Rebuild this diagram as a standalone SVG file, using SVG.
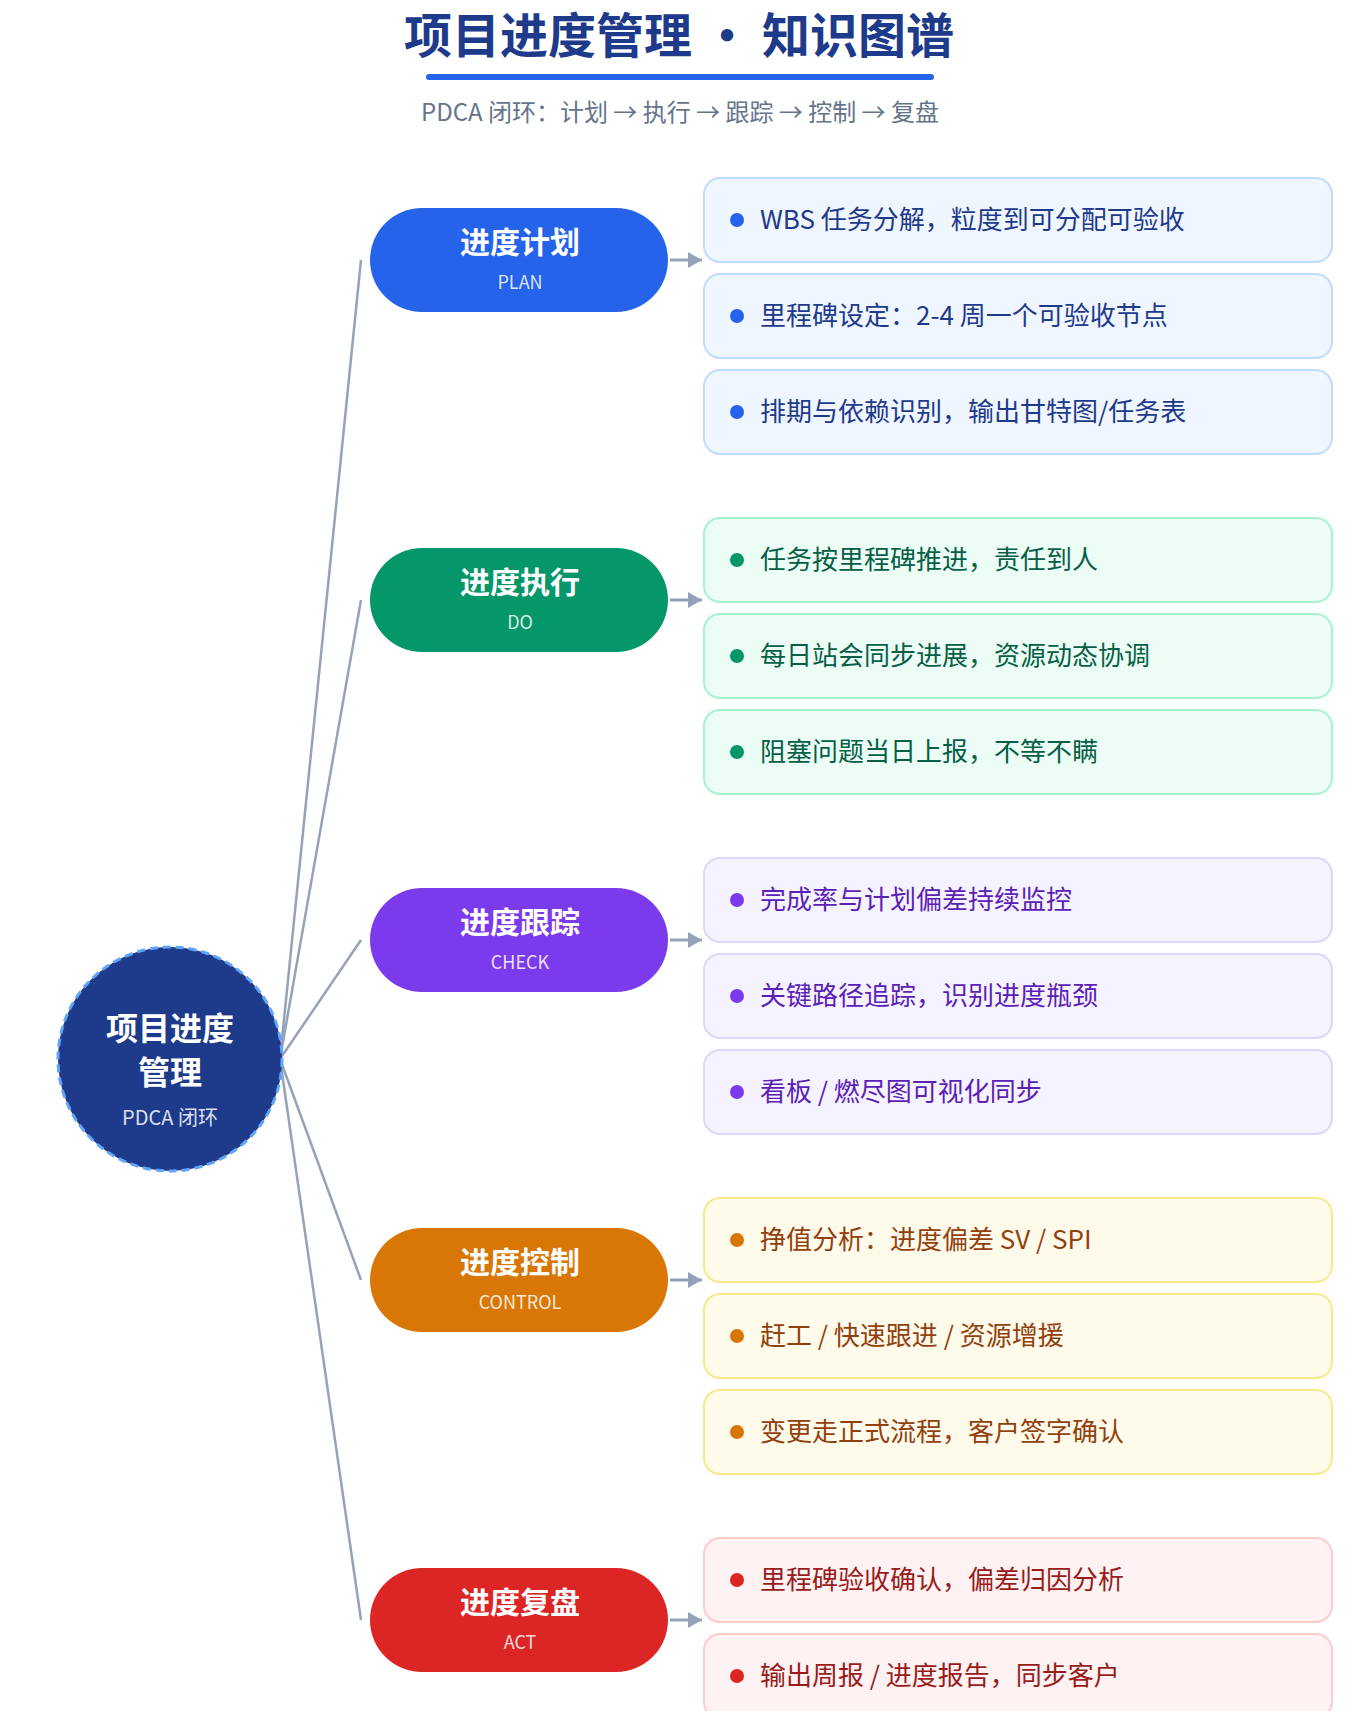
<svg xmlns="http://www.w3.org/2000/svg" width="1360" height="1711" viewBox="0 0 1360 1711">
<style>
text{font-family:"Noto Sans CJK SC","Noto Sans",sans-serif}
.pt{font-size:30px;font-weight:bold;fill:#fff;text-anchor:middle}
.ps{font-size:18px;fill:#fff;fill-opacity:.85;text-anchor:middle}
.it{font-size:26px}
.ln{stroke:#94a3b8;stroke-width:2.5;fill:none}
</style>
<defs><marker id="ar" markerWidth="16" markerHeight="16" refX="14" refY="8" orient="auto" markerUnits="userSpaceOnUse"><path d="M0,0L14,8L0,16z" fill="#94a3b8"/></marker></defs>
<rect width="1360" height="1711" fill="#fff"/>
<g id="title">
<text x="679" y="53" font-size="48" font-weight="bold" fill="#1e3a8a" text-anchor="middle">项目进度管理 · 知识图谱</text>
<rect x="426" y="74" width="508" height="6" rx="3" fill="#2563eb"/>
<text x="680" y="121" font-size="24" fill="#64748b" text-anchor="middle">PDCA 闭环：计划 → 执行 → 跟踪 → 控制 → 复盘</text>
</g>
<g id="connectors">
<path class="ln" d="M280,1059L361,260M280,1059L361,600M280,1059L361,940M280,1059L361,1280M280,1059L361,1620"/>
<g stroke="#94a3b8" stroke-width="3" marker-end="url(#ar)">
<line x1="670" y1="260" x2="702" y2="260"/><line x1="670" y1="600" x2="702" y2="600"/><line x1="670" y1="940" x2="702" y2="940"/><line x1="670" y1="1280" x2="702" y2="1280"/><line x1="670" y1="1620" x2="702" y2="1620"/>
</g>
</g>
<g id="root">
<circle cx="170" cy="1059" r="112" fill="#1e3a8a" stroke="#60a5fa" stroke-width="3" stroke-dasharray="8 5"/>
<text x="170" y="1040" font-size="32" font-weight="bold" fill="#fff" text-anchor="middle">项目进度</text>
<text x="170" y="1084" font-size="32" font-weight="bold" fill="#fff" text-anchor="middle">管理</text>
<text x="170" y="1125" font-size="20" fill="#fff" fill-opacity=".85" text-anchor="middle">PDCA 闭环</text>
</g>
<g id="plan">
<rect x="370" y="208" width="298" height="104" rx="52" fill="#2563eb"/>
<text class="pt" x="520" y="253">进度计划</text><text class="ps" x="520" y="289">PLAN</text>
<g fill="#eff6ff" stroke="#bfdbfe" stroke-width="2"><rect x="704" y="178" width="628" height="84" rx="16"/><rect x="704" y="274" width="628" height="84" rx="16"/><rect x="704" y="370" width="628" height="84" rx="16"/></g>
<g fill="#2563eb"><circle cx="737" cy="220" r="7"/><circle cx="737" cy="316" r="7"/><circle cx="737" cy="412" r="7"/></g>
<g class="it" fill="#1e3a8a"><text x="760" y="229">WBS 任务分解，粒度到可分配可验收</text><text x="760" y="325">里程碑设定：2-4 周一个可验收节点</text><text x="760" y="421">排期与依赖识别，输出甘特图/任务表</text></g>
</g>
<g id="do">
<rect x="370" y="548" width="298" height="104" rx="52" fill="#059669"/>
<text class="pt" x="520" y="593">进度执行</text><text class="ps" x="520" y="629">DO</text>
<g fill="#ecfdf5" stroke="#a7f3d0" stroke-width="2"><rect x="704" y="518" width="628" height="84" rx="16"/><rect x="704" y="614" width="628" height="84" rx="16"/><rect x="704" y="710" width="628" height="84" rx="16"/></g>
<g fill="#059669"><circle cx="737" cy="560" r="7"/><circle cx="737" cy="656" r="7"/><circle cx="737" cy="752" r="7"/></g>
<g class="it" fill="#065f46"><text x="760" y="569">任务按里程碑推进，责任到人</text><text x="760" y="665">每日站会同步进展，资源动态协调</text><text x="760" y="761">阻塞问题当日上报，不等不瞒</text></g>
</g>
<g id="check">
<rect x="370" y="888" width="298" height="104" rx="52" fill="#7c3aed"/>
<text class="pt" x="520" y="933">进度跟踪</text><text class="ps" x="520" y="969">CHECK</text>
<g fill="#f5f3ff" stroke="#ddd6fe" stroke-width="2"><rect x="704" y="858" width="628" height="84" rx="16"/><rect x="704" y="954" width="628" height="84" rx="16"/><rect x="704" y="1050" width="628" height="84" rx="16"/></g>
<g fill="#7c3aed"><circle cx="737" cy="900" r="7"/><circle cx="737" cy="996" r="7"/><circle cx="737" cy="1092" r="7"/></g>
<g class="it" fill="#5b21b6"><text x="760" y="909">完成率与计划偏差持续监控</text><text x="760" y="1005">关键路径追踪，识别进度瓶颈</text><text x="760" y="1101">看板 / 燃尽图可视化同步</text></g>
</g>
<g id="control">
<rect x="370" y="1228" width="298" height="104" rx="52" fill="#d97706"/>
<text class="pt" x="520" y="1273">进度控制</text><text class="ps" x="520" y="1309">CONTROL</text>
<g fill="#fffbeb" stroke="#fde68a" stroke-width="2"><rect x="704" y="1198" width="628" height="84" rx="16"/><rect x="704" y="1294" width="628" height="84" rx="16"/><rect x="704" y="1390" width="628" height="84" rx="16"/></g>
<g fill="#d97706"><circle cx="737" cy="1240" r="7"/><circle cx="737" cy="1336" r="7"/><circle cx="737" cy="1432" r="7"/></g>
<g class="it" fill="#92400e"><text x="760" y="1249">挣值分析：进度偏差 SV / SPI</text><text x="760" y="1345">赶工 / 快速跟进 / 资源增援</text><text x="760" y="1441">变更走正式流程，客户签字确认</text></g>
</g>
<g id="act">
<rect x="370" y="1568" width="298" height="104" rx="52" fill="#dc2626"/>
<text class="pt" x="520" y="1613">进度复盘</text><text class="ps" x="520" y="1649">ACT</text>
<g fill="#fef2f2" stroke="#fecaca" stroke-width="2"><rect x="704" y="1538" width="628" height="84" rx="16"/><rect x="704" y="1634" width="628" height="84" rx="16"/></g>
<g fill="#dc2626"><circle cx="737" cy="1580" r="7"/><circle cx="737" cy="1676" r="7"/></g>
<g class="it" fill="#991b1b"><text x="760" y="1589">里程碑验收确认，偏差归因分析</text><text x="760" y="1685">输出周报 / 进度报告，同步客户</text></g>
</g>
</svg>
